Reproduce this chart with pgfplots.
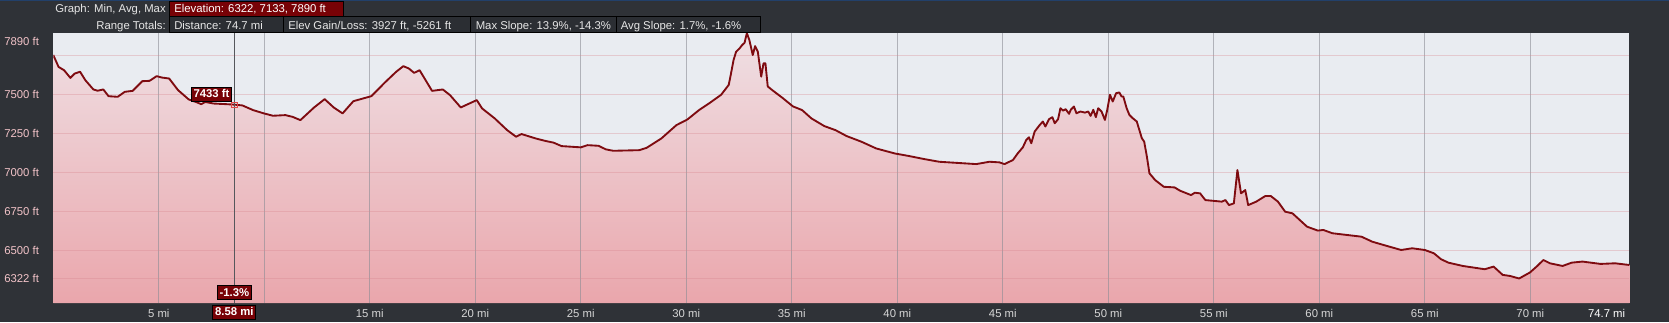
\documentclass[border=0pt]{standalone}
\usepackage{fontspec}
\setmainfont{Liberation Sans}
\usepackage{pgfplots}
\pgfplotsset{compat=1.18}
\usetikzlibrary{backgrounds}
\definecolor{bg}{HTML}{2F3237}
\definecolor{topblue}{HTML}{22406A}
\definecolor{plotbg}{HTML}{E9ECF1}
\definecolor{fillTop}{HTML}{EFE0E4}
\definecolor{fillBot}{HTML}{EAA6AC}
\definecolor{curve}{HTML}{7E0B10}
\definecolor{boxred}{HTML}{780206}
\definecolor{rowbox}{HTML}{2B2E33}
\definecolor{hdr}{HTML}{E6E6E6}
\definecolor{xlab}{HTML}{D6D6D6}
\definecolor{ylab}{HTML}{F2C3C8}
\definecolor{vgrid}{HTML}{8A8C94}
\definecolor{hgrid}{HTML}{D88890}
\definecolor{cursor}{HTML}{55575C}
\definecolor{marker}{HTML}{E04848}

\pgfplotstableread{
mi elev
0 7750
0.25 7674
0.51 7653
0.81 7604
1.02 7632
1.27 7643
1.52 7589
1.90 7530
2.10 7522
2.37 7530
2.62 7487
3.05 7483
3.39 7515
3.76 7521
4.22 7583
4.56 7585
4.90 7615
5.15 7606
5.49 7600
5.91 7526
6.42 7466
6.80 7448
7.01 7436
7.20 7450
7.60 7440
8.20 7436
8.58 7433
8.96 7428
9.47 7398
9.98 7377
10.41 7362
11.0 7366
11.34 7355
11.71 7334
12.36 7415
12.86 7468
13.29 7415
13.71 7377
14.22 7455
15.07 7487
15.75 7579
16.25 7643
16.59 7679
16.85 7664
17.10 7636
17.36 7653
17.95 7521
18.46 7530
18.80 7494
19.31 7415
20.07 7462
20.32 7409
20.92 7345
21.51 7270
21.93 7228
22.19 7245
22.86 7217
23.29 7202
23.71 7190
24.09 7168
25.0 7160
25.32 7174
25.84 7170
26.19 7147
26.54 7138
27.77 7142
28.12 7157
28.82 7217
29.53 7302
30.05 7338
30.62 7400
31.10 7443
31.65 7496
32.01 7559
32.12 7633
32.24 7718
32.36 7771
32.52 7792
32.65 7814
32.76 7828
32.87 7890
32.99 7845
33.15 7750
33.26 7807
33.39 7771
33.55 7612
33.66 7697
33.75 7697
33.86 7549
34.10 7523
34.57 7475
35.05 7422
35.49 7398
35.93 7345
36.54 7296
37.07 7270
37.60 7232
38.30 7196
39.0 7153
39.88 7121
40.58 7104
41.28 7085
41.98 7068
42.68 7062
43.74 7053
44.37 7068
44.84 7064
45.08 7053
45.48 7079
45.71 7122
45.95 7160
46.11 7207
46.24 7224
46.35 7186
46.51 7261
46.75 7303
46.90 7325
47.02 7293
47.19 7340
47.35 7353
47.46 7314
47.62 7340
47.73 7410
47.86 7395
47.98 7404
48.14 7374
48.22 7400
48.37 7421
48.49 7378
48.68 7389
48.89 7382
49.05 7389
49.16 7361
49.29 7400
49.41 7353
49.52 7410
49.68 7389
49.84 7335
49.95 7400
50.08 7496
50.21 7453
50.37 7506
50.52 7511
50.63 7485
50.71 7485
50.87 7410
51.00 7367
51.16 7346
51.35 7325
51.59 7218
51.70 7197
51.83 7100
51.95 6994
52.22 6951
52.63 6908
53.14 6904
53.40 6883
53.92 6855
54.10 6870
54.35 6866
54.60 6823
55.38 6813
55.55 6823
55.72 6791
55.95 6802
56.12 7015
56.29 6866
56.49 6887
56.63 6791
57.01 6813
57.44 6849
57.70 6849
58.04 6813
58.38 6749
58.73 6738
59.42 6653
59.93 6628
60.19 6632
60.62 6611
61.31 6600
62.0 6589
62.51 6557
63.20 6530
63.88 6504
64.40 6515
65.0 6504
65.43 6483
65.77 6445
66.12 6423
66.80 6402
67.84 6381
68.26 6398
68.69 6345
69.04 6338
69.47 6322
69.98 6360
70.33 6402
70.62 6440
70.93 6419
71.53 6402
71.96 6423
72.47 6430
73.33 6415
74.02 6419
74.7 6408
}\profile

\begin{document}
\begin{tikzpicture}[x=0.75pt,y=0.75pt,font=\fontsize{8.5}{10}\selectfont]
\begin{axis}[
  name=ax,
  scale only axis, width=1182.15pt, height=202.4pt,
  xmin=0, xmax=74.7, ymin=6165.2, ymax=7890,
  clip mode=individual,
  axis background/.style={fill=plotbg},
  axis line style={draw=none},
  major tick length=0pt,
  tick style={draw=none},
  xtick={5,10,...,70},
  xticklabels={5 mi,,15 mi,20 mi,25 mi,30 mi,35 mi,40 mi,45 mi,50 mi,55 mi,60 mi,65 mi,70 mi},
  ytick={6322,6500,6750,7000,7250,7500},
  yticklabels={6322 ft,6500 ft,6750 ft,7000 ft,7250 ft,7500 ft},
  extra y ticks={7890}, extra y tick labels={7890 ft},
  extra y tick style={yticklabel style={yshift=-6.3pt}},
  extra x ticks={74.7}, extra x tick labels={74.7 mi},
  extra x tick style={xticklabel style={anchor=base east, xshift=-3pt, text=white}},
  xticklabel style={text=xlab, inner sep=0pt, anchor=base, yshift=-10.8pt},
  yticklabel style={text=ylab, inner sep=0pt, anchor=base west, xshift=-36.975pt, yshift=-3pt},
]
\coordinate (O) at (rel axis cs:0,0);
\addplot[draw=none, top color=fillTop, bottom color=fillBot] table[x=mi,y=elev]{\profile} \closedcycle;
\pgfplotsinvokeforeach{5,10,...,70}{
  \draw[color=vgrid, opacity=0.6, line width=0.75pt] (axis cs:#1,6165.2) -- (axis cs:#1,7890);
}
\pgfplotsinvokeforeach{6322,6500,6750,7000,7250,7500,7750}{
  \draw[color=hgrid, opacity=0.35, line width=0.75pt] (axis cs:0,#1) -- (axis cs:74.7,#1);
}
\addplot[color=curve, line width=1.4pt, line join=round] table[x=mi,y=elev]{\profile};
\draw[cursor, line width=0.75pt] (axis cs:8.58,6165.2) -- (axis cs:8.58,7890);
\addplot[only marks, mark=square, mark size=1.9pt, color=marker, line width=0.5pt] coordinates {(8.58,7433)};
\node[fill=boxred, draw=black, line width=0.75pt, text=white, font=\fontsize{8.5}{10}\selectfont\bfseries, inner xsep=1.6pt, inner ysep=1.6pt, text height=6.3pt, text depth=1.1pt, anchor=south east] at ([xshift=-1.7pt,yshift=2pt]axis cs:8.58,7433) {7433 ft};
\node[fill=boxred, draw=black, line width=0.75pt, text=white, font=\fontsize{8.5}{10}\selectfont\bfseries, inner xsep=1.6pt, inner ysep=1.6pt, text height=6.3pt, text depth=1.1pt, anchor=south] at ([yshift=2pt]axis cs:8.58,6165.2) {-1.3\%};
\node[fill=boxred, draw=black, line width=0.75pt, text=white, font=\fontsize{8.5}{10}\selectfont\bfseries, inner xsep=1.6pt, inner ysep=1.6pt, text height=6.3pt, text depth=1.1pt, anchor=north] at ([yshift=-1.3pt]axis cs:8.58,6165.2) {8.58 mi};
\end{axis}
\begin{scope}[shift={(O)}, shift={(-53.3,-19)}]
\begin{scope}[on background layer]
\fill[bg] (0,0) rectangle (1669,322);
\fill[topblue] (0,321) rectangle (1669,322);
\end{scope}
% header row 1
\node[anchor=base east, inner sep=0pt, text=hdr] at (166,309.5) {Graph: Min, Avg, Max};
\draw[black, fill=boxred, line width=0.75pt] (169,305) rectangle (343,320);
\node[anchor=base west, inner sep=0pt, text=white] at (174,309.5) {Elevation: 6322, 7133, 7890 ft};
% header row 2
\node[anchor=base east, inner sep=0pt, text=hdr] at (166,292.7) {Range Totals:};
\draw[black, fill=rowbox, line width=0.75pt] (169,289) rectangle (283,305);
\draw[black, fill=rowbox, line width=0.75pt] (283,289) rectangle (470.7,305);
\draw[black, fill=rowbox, line width=0.75pt] (470.7,289) rectangle (616,305);
\draw[black, fill=rowbox, line width=0.75pt] (616,289) rectangle (760,305);
\node[anchor=base west, inner sep=0pt, text=hdr] at (174,292.7) {Distance: 74.7 mi};
\node[anchor=base west, inner sep=0pt, text=hdr] at (288,292.7) {Elev Gain/Loss: 3927 ft, -5261 ft};
\node[anchor=base west, inner sep=0pt, text=hdr] at (475.5,292.7) {Max Slope: 13.9\%, -14.3\%};
\node[anchor=base west, inner sep=0pt, text=hdr] at (620.5,292.7) {Avg Slope: 1.7\%, -1.6\%};
\pgfresetboundingbox
\useasboundingbox (0,0) rectangle (1669,322);
\end{scope}
\end{tikzpicture}
\end{document}
